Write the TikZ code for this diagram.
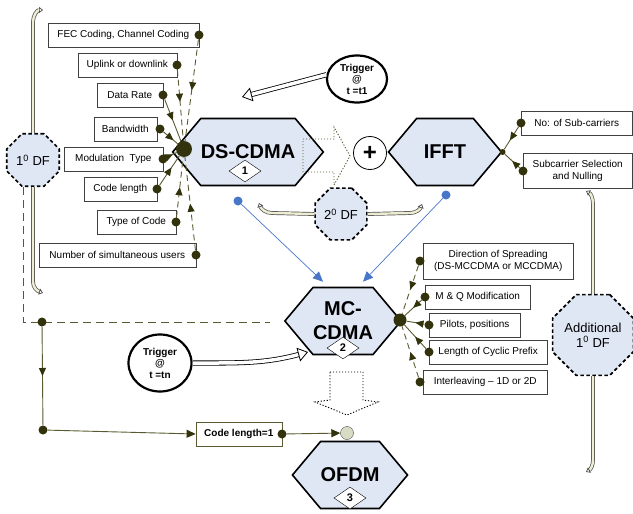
\documentclass[tikz,border=0pt]{standalone}
\usepackage{fontspec}
\setmainfont{Liberation Sans}
\usetikzlibrary{arrows.meta,positioning,shapes.geometric,shapes.symbols,decorations.markings}
\definecolor{hexfill}{RGB}{223,231,244}
\definecolor{olivedot}{RGB}{50,50,12}
\definecolor{oliveline}{RGB}{90,90,50}
\definecolor{linkblue}{RGB}{72,118,200}
\definecolor{cream}{RGB}{238,236,210}
\definecolor{endfill}{RGB}{216,220,196}

\begin{document}
\begin{tikzpicture}[x=1pt, y=-1pt,
  hexa/.style={signal, signal to=east and west, signal pointer angle=100, draw,
               line width=1.6pt, fill=hexfill, minimum width=113pt, minimum height=67pt,
               inner sep=0pt, align=center, font=\fontsize{20}{24}\selectfont\bfseries},
  numtag/.style={diamond, draw, thin, fill=white, aspect=1.45, inner sep=0pt,
                 minimum width=32pt, minimum height=22pt, font=\fontsize{11}{12}\selectfont\bfseries},
  box/.style={draw=black!75, fill=white, inner xsep=4pt, minimum height=24pt,
              align=center, font=\fontsize{10}{12}\selectfont},
  octa/.style={regular polygon, regular polygon sides=8, draw, line width=1.7pt,
               dash pattern=on 3.5pt off 2.5pt, fill=hexfill, inner sep=0pt, minimum size=#1,
               align=center, font=\fontsize{13}{15}\selectfont},
  trig/.style={ellipse, draw, line width=2.2pt, fill=white, inner sep=0pt,
               align=center, font=\fontsize{10}{11.5}\selectfont\bfseries},
  dot/.style={circle, fill=olivedot, inner sep=0pt, minimum size=#1},
  dot/.default=9pt,
  bdot/.style={circle, fill=linkblue, inner sep=0pt, minimum size=9pt},
  midtip/.style={postaction={decorate}, decoration={markings,
              mark=at position #1 with {\arrow{Triangle[length=8pt,width=7pt,color=olivedot]}}}},
  link/.style={draw=oliveline, line width=0.9pt, midtip=#1},
  link/.default=0.5,
  dlink/.style={link=#1, dash pattern=on 6pt off 4pt},
  dlink/.default=0.5,
  flow/.style={draw=oliveline, line width=0.9pt, -{Triangle[length=9pt,width=8pt,color=olivedot]}},
  bluelink/.style={draw=linkblue, line width=0.7pt, -{Triangle[length=10pt,width=9pt]}},
  hollow/.style={draw=black, line width=0.8pt, double=white, double distance=3.5pt,
                 -{Triangle[open,length=10pt,width=14pt]}},
  bracket/.style={draw=black!70, line width=0.7pt, double=cream, double distance=2.4pt,
                  -{Triangle[open,length=4pt,width=6pt]}},
  frame/.style={draw=oliveline, line width=1pt, dash pattern=on 8pt off 5pt},
  bigarrow/.style={draw=#1, line width=0.9pt, dash pattern=on 1.2pt off 1.8pt}
]
  \useasboundingbox (0,0) rectangle (633,514);

  % ---- Degrees of freedom ----
  \node[octa=57pt] (df1) at (33,160) {1\textsuperscript{0} DF};
  \node[octa=56pt] (df2) at (341,214) {2\textsuperscript{0} DF};
  \node[octa=80pt] (df3) at (593,335) {Additional\\1\textsuperscript{0} DF};
  \draw[bracket] (df1.north) -- (33,22) to[out=90,in=180] (43,10);
  \draw[bracket] (df1.south) -- (33,282) to[out=-90,in=160] (43,293);
  \draw[bracket] (df3.north) -- (593,204) to[out=90,in=-30] (586,191);
  \draw[bracket] (df3.south) -- (593,460) to[out=-90,in=30] (586,472);
  \draw[bracket] (df2.west) -- (272,213) to[out=180,in=-70] (259,203);
  \draw[bracket] (df2.east) -- (410,213) to[out=0,in=-110] (422,204);

  % ---- Main blocks ----
  \node[hexa] (ds) at (248,152) {DS-CDMA};
  \node[numtag] (n1) at (245,171) {1};
  \draw[bigarrow=oliveline] (303,139) -- (334,139) -- (334,127) -- (350,156)
        -- (334,185) -- (334,172) -- (303,172) -- cycle;
  \node[circle, draw, line width=0.8pt, minimum size=33pt, inner sep=0pt,
        font=\fontsize{24}{24}\selectfont\bfseries] (plus) at (370,153) {+};
  \node[hexa] (ifft) at (445,152) {IFFT};
  \node[hexa] (mc) at (343,321) {MC-\\CDMA};
  \node[numtag] (n2) at (343,348) {2};
  \draw[bigarrow=black] (330,372) -- (363,372) -- (363,400) -- (378,402) -- (347,415)
        -- (315,402) -- (330,400) -- cycle;
  \node[hexa] (ofdm) at (350,475) {OFDM};
  \node[numtag] (n3) at (350,498) {3};

  % ---- Triggers ----
  \node[trig, minimum width=60pt, minimum height=47pt] (tr1) at (357,79) {Trigger\\@\\t =t1};
  \node[trig, minimum width=63pt, minimum height=57pt] (trn) at (160,363) {Trigger\\@\\t =tn};
  \coordinate (tip1) at (242,97);
  \coordinate (tipn) at (308,352);
  \draw[hollow] (tr1.172) -- (tip1);
  \draw[hollow] (trn.east) to[out=0,in=195] (tipn);

  % ---- DS-CDMA parameters ----
  \node[box, anchor=east, minimum width=151pt] (fec) at (199,35) {FEC Coding, Channel Coding};
  \node[box, anchor=east, minimum width=99pt] (updown) at (177,65) {Uplink or downlink};
  \node[box, anchor=east, minimum width=66pt] (rate) at (163,95) {Data Rate};
  \node[box, anchor=east, minimum width=63pt] (bw) at (157,129) {Bandwidth};
  \node[box, anchor=east, minimum width=99pt] (modu) at (163,159) {Modulation~~Type};
  \node[box, anchor=east, minimum width=73pt] (clen) at (157,189) {Code length};
  \node[box, anchor=east, minimum width=79pt] (ctype) at (176,222) {Type of Code};
  \node[box, anchor=east, minimum width=157pt] (users) at (196,255) {Number of simultaneous users};
  \node[dot=16pt] (lhub) at (184,149) {};
  \node[dot] (dfec) at (fec.east) {};
  \node[dot] (dupdown) at (updown.east) {};
  \node[dot] (drate) at (rate.east) {};
  \node[dot] (dbw) at ([xshift=3pt]bw.east) {};
  \node[dot] (dmodu) at (modu.east) {};
  \node[dot] (dclen) at (clen.east) {};
  \node[dot] (dctype) at (ctype.east) {};
  \node[dot] (dusers) at (users.east) {};
  \draw[dlink] (dfec) -- (lhub);
  \draw[dlink=0.45] (dupdown) -- (lhub);
  \draw[link=0.5] (drate) -- (lhub);
  \draw[link=0.7] (dbw) -- (lhub);
  \draw[link=0.6] (dmodu) -- (lhub);
  \draw[link=0.6] (dclen) -- (lhub);
  \draw[dlink] (dctype) -- (lhub);
  \draw[dlink] (dusers) -- (lhub);

  % ---- IFFT parameters ----
  \node[box, anchor=west, minimum width=111pt] (nsub) at (521,123) {No: of Sub-carriers};
  \node[box, anchor=west, minimum width=109pt, minimum height=35pt] (ssel) at (523,171) {Subcarrier Selection\\and Nulling};
  \node[dot=6pt] (ihub) at (ifft.east) {};
  \node[dot] (dnsub) at (nsub.west) {};
  \node[dot] (dssel) at (ssel.west) {};
  \draw[link=0.6] (dnsub) -- (ihub);
  \draw[link=0.5] (dssel) -- (ihub);

  % ---- MC-CDMA parameters ----
  \node[box, anchor=west, minimum width=150pt, minimum height=36pt] (dir) at (423,261) {Direction of Spreading\\(DS-MCCDMA or MCCDMA)};
  \node[box, anchor=west, minimum width=105pt] (mq) at (425,297) {M \& Q Modification};
  \node[box, anchor=west, minimum width=91pt] (pil) at (429,325) {Pilots, positions};
  \node[box, anchor=west, minimum width=118pt] (cp) at (429,352) {Length of Cyclic Prefix};
  \node[box, anchor=west, minimum width=124pt] (ilv) at (423,382) {Interleaving -- 1D or 2D};
  \node[dot=13pt] (rhub) at (400,320) {};
  \node[dot] (ddir) at ([xshift=-3pt]dir.west) {};
  \node[dot] (dmq) at (mq.west) {};
  \node[dot] (dpil) at (pil.west) {};
  \node[dot] (dcp) at (cp.west) {};
  \node[dot] (dilv) at ([xshift=-3pt]ilv.west) {};
  \draw[dlink] (ddir) -- (rhub);
  \draw[link=0.5] (dmq) -- (rhub);
  \draw[link=0.5] (dpil) -- (rhub);
  \draw[link=0.5] (dcp) -- (rhub);
  \draw[dlink] (dilv) -- (rhub);

  % ---- Blue links into MC-CDMA ----
  \node[bdot] (bd1) at (238,201) {};
  \node[bdot] (bd2) at (446,195) {};
  \draw[bluelink] (bd1) -- ([xshift=-20pt,yshift=5pt]mc.north);
  \draw[bluelink] (bd2) -- ([xshift=20pt,yshift=5pt]mc.north);

  % ---- Fall back to OFDM ----
  \coordinate (fend) at (270,322);
  \draw[frame] ([xshift=-10pt]df1.south) |- (fend);
  \node[dot] (j1) at (42,322) {};
  \node[dot] (j2) at (43,430) {};
  \node[box, draw=oliveline, anchor=east, minimum width=86pt,
        font=\fontsize{10}{12}\selectfont\bfseries] (cl1) at (282,434) {Code length=1};
  \node[dot] (dcl1) at (cl1.east) {};
  \node[circle, draw=black!70, fill=endfill, minimum size=13pt, inner sep=0pt] (og) at (347,433) {};
  \draw[link=0.5] (j1) -- (j2);
  \draw[flow] (j2) -- (cl1.west);
  \draw[flow] (dcl1) -- (og);
\end{tikzpicture}
\end{document}
